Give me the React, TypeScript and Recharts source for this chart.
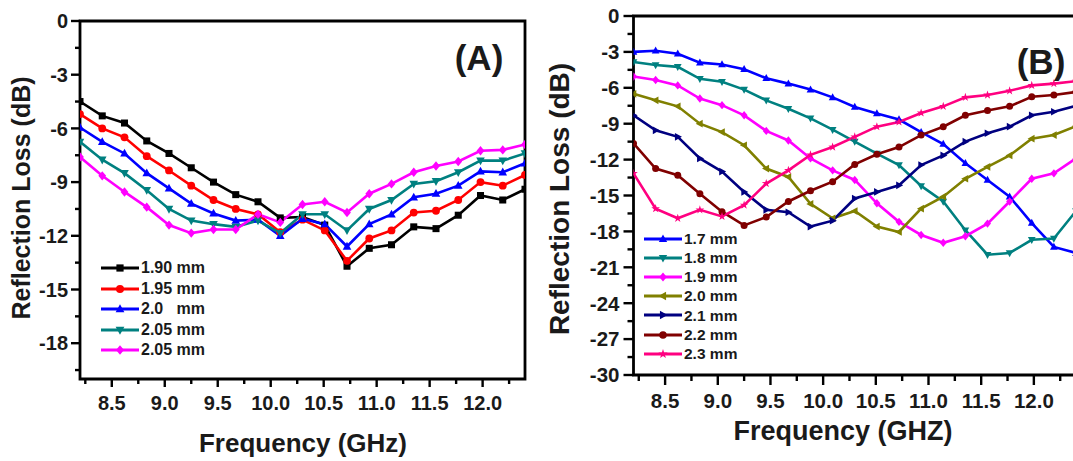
import React from "react";
import { LineChart, Line, XAxis, YAxis, ReferenceArea, Legend } from "recharts";

// frequency points (GHz), shared by both panels
const freq = [8.2, 8.41, 8.62, 8.83, 9.04, 9.25, 9.46, 9.67, 9.88, 10.09, 10.3, 10.51, 10.72, 10.93, 11.14, 11.35, 11.56, 11.77, 11.98, 12.19, 12.4];

// panel A
const rl190 = [-4.5, -5.3, -5.7, -6.7, -7.4, -8.2, -9.0, -9.7, -10.1, -11.0, -10.95, -11.4, -13.7, -12.7, -12.5, -11.5, -11.6, -10.85, -9.75, -10.0, -9.4];
const rl195 = [-5.2, -6.0, -6.5, -7.55, -8.35, -9.2, -10.0, -10.5, -10.8, -11.8, -11.1, -11.7, -13.4, -12.15, -11.7, -10.7, -10.6, -10.0, -9.0, -9.2, -8.6];
const rl200 = [-5.95, -6.75, -7.4, -8.5, -9.35, -10.2, -10.75, -11.15, -11.1, -12.0, -11.05, -11.35, -12.6, -11.35, -10.8, -9.85, -9.65, -9.2, -8.4, -8.45, -7.95];
const rl205a = [-6.75, -7.75, -8.5, -9.45, -10.5, -11.15, -11.35, -11.5, -11.15, -11.85, -10.8, -10.8, -11.7, -10.5, -10.0, -9.1, -8.95, -8.45, -7.8, -7.8, -7.4];
const rl205b = [-7.6, -8.65, -9.55, -10.4, -11.4, -11.85, -11.65, -11.65, -10.8, -11.25, -10.25, -10.1, -10.7, -9.65, -9.1, -8.45, -8.1, -7.85, -7.25, -7.2, -6.9];

// panel B
const rl17 = [-3.0, -2.9, -3.15, -3.9, -4.05, -4.45, -5.2, -5.65, -6.15, -6.8, -7.6, -8.15, -8.65, -9.7, -10.7, -12.3, -13.7, -15.1, -17.3, -19.3, -19.8];
const rl18 = [-3.85, -4.1, -4.25, -5.25, -5.5, -6.15, -7.05, -7.75, -8.55, -9.5, -10.5, -11.5, -12.45, -14.2, -15.5, -17.9, -19.95, -19.8, -18.7, -18.6, -16.3];
const rl19 = [-5.05, -5.35, -5.8, -6.9, -7.45, -8.3, -9.6, -10.4, -11.9, -12.9, -13.7, -15.65, -17.2, -18.3, -18.95, -18.4, -17.35, -15.5, -13.6, -13.15, -11.9];
const rl20 = [-6.5, -7.05, -7.55, -9.0, -9.7, -10.8, -12.75, -13.45, -15.7, -16.9, -16.3, -17.6, -18.05, -16.1, -15.1, -13.6, -12.6, -11.65, -10.25, -9.95, -9.2];
const rl21 = [-8.3, -9.55, -10.1, -11.9, -13.0, -14.7, -16.2, -16.4, -17.6, -17.1, -15.25, -14.7, -14.15, -12.45, -11.65, -10.5, -9.8, -9.25, -8.3, -8.0, -7.5];
const rl22 = [-10.65, -12.75, -13.3, -14.85, -16.35, -17.5, -16.8, -15.5, -14.6, -13.85, -12.4, -11.55, -10.95, -9.95, -9.25, -8.3, -7.9, -7.55, -6.75, -6.6, -6.35];
const rl23 = [-13.15, -16.1, -16.9, -16.2, -16.75, -15.8, -14.0, -12.9, -11.6, -10.95, -10.1, -9.25, -8.85, -8.1, -7.55, -6.8, -6.6, -6.25, -5.8, -5.65, -5.45];

// ticks
const xTicks = [8.25, 8.5, 8.75, 9.0, 9.25, 9.5, 9.75, 10.0, 10.25, 10.5, 10.75, 11.0, 11.25, 11.5, 11.75, 12.0, 12.25];
const yTicksA = [-19.5, -18, -16.5, -15, -13.5, -12, -10.5, -9, -7.5, -6, -4.5, -3, -1.5, 0];
const yTicksB = [-30, -28.5, -27, -25.5, -24, -22.5, -21, -19.5, -18, -16.5, -15, -13.5, -12, -10.5, -9, -7.5, -6, -4.5, -3, -1.5, 0];

type Shape = "square" | "circle" | "up" | "down" | "diamond" | "left" | "right" | "star";
type Series = { key: string; name: string; color: string; shape: Shape; values: number[] };

const seriesA: Series[] = [
  { key: "a190", name: "1.90 mm", color: "#000000", shape: "square", values: rl190 },
  { key: "a195", name: "1.95 mm", color: "#ff0000", shape: "circle", values: rl195 },
  { key: "a200", name: "2.0   mm", color: "#0000ff", shape: "up", values: rl200 },
  { key: "a205", name: "2.05 mm", color: "#008080", shape: "down", values: rl205a },
  { key: "a205b", name: "2.05 mm", color: "#ff00ff", shape: "diamond", values: rl205b },
];

const seriesB: Series[] = [
  { key: "b17", name: "1.7 mm", color: "#0000ff", shape: "up", values: rl17 },
  { key: "b18", name: "1.8 mm", color: "#008080", shape: "down", values: rl18 },
  { key: "b19", name: "1.9 mm", color: "#ff00ff", shape: "diamond", values: rl19 },
  { key: "b20", name: "2.0 mm", color: "#808000", shape: "left", values: rl20 },
  { key: "b21", name: "2.1 mm", color: "#000080", shape: "right", values: rl21 },
  { key: "b22", name: "2.2 mm", color: "#800000", shape: "circle", values: rl22 },
  { key: "b23", name: "2.3 mm", color: "#ff0080", shape: "star", values: rl23 },
];

const toRows = (series: Series[]) =>
  freq.map((f, i) => {
    const row: Record<string, number> = { f };
    series.forEach((s) => (row[s.key] = s.values[i]));
    return row;
  });

const FONT = "'Liberation Sans', Arial, sans-serif";

function Marker({ cx, cy, shape, color, r }: { cx: number; cy: number; shape: Shape; color: string; r: number }) {
  const pts = (list: number[][]) => list.map(([dx, dy]) => `${cx + dx * r},${cy + dy * r}`).join(" ");
  switch (shape) {
    case "square":
      return <rect x={cx - r * 0.9} y={cy - r * 0.9} width={r * 1.8} height={r * 1.8} fill={color} />;
    case "circle":
      return <circle cx={cx} cy={cy} r={r} fill={color} />;
    case "up":
      return <polygon points={pts([[0, -1.2], [1.1, 0.8], [-1.1, 0.8]])} fill={color} />;
    case "down":
      return <polygon points={pts([[0, 1.2], [1.1, -0.8], [-1.1, -0.8]])} fill={color} />;
    case "left":
      return <polygon points={pts([[-1.2, 0], [0.8, -1.1], [0.8, 1.1]])} fill={color} />;
    case "right":
      return <polygon points={pts([[1.2, 0], [-0.8, -1.1], [-0.8, 1.1]])} fill={color} />;
    case "diamond":
      return <polygon points={pts([[0, -1.2], [1.0, 0], [0, 1.2], [-1.0, 0]])} fill={color} />;
    case "star": {
      const list: number[][] = [];
      for (let k = 0; k < 10; k++) {
        const a = -Math.PI / 2 + (k * Math.PI) / 5;
        const rr = k % 2 === 0 ? 1.3 : 0.5;
        list.push([Math.cos(a) * rr, Math.sin(a) * rr]);
      }
      return <polygon points={pts(list)} fill={color} />;
    }
  }
  return null;
}

const isMajor = (v: number, step: number) => Math.abs(v / step - Math.round(v / step)) < 1e-6;

function makeXTick(majorLen: number, minorLen: number, dy: number, fs: number) {
  return (props: any) => {
    const { x, y, payload } = props;
    const v = payload.value as number;
    const major = isMajor(v, 0.5);
    return (
      <g>
        <line x1={x} y1={y} x2={x} y2={y + (major ? majorLen : minorLen)} stroke="#000" strokeWidth={2.4} />
        {major && (
          <text x={x} y={y + dy} textAnchor="middle" fontSize={fs} fontWeight="bold" fontFamily={FONT} fill="#1a1a1a">
            {v.toFixed(1)}
          </text>
        )}
      </g>
    );
  };
}

function makeYTick(majorLen: number, minorLen: number, gap: number, fs: number) {
  return (props: any) => {
    const { x, y, payload } = props;
    const v = payload.value as number;
    const major = isMajor(v, 3);
    return (
      <g>
        <line x1={x} y1={y} x2={x - (major ? majorLen : minorLen)} y2={y} stroke="#000" strokeWidth={2.4} />
        {major && (
          <text x={x - gap} y={y} dy="0.36em" textAnchor="end" fontSize={fs} fontWeight="bold" fontFamily={FONT} fill="#1a1a1a">
            {String(Math.round(v))}
          </text>
        )}
      </g>
    );
  };
}

function makeLegend(series: Series[], rowH: number, fs: number, r: number) {
  return () => (
    <div style={{ display: "flex", flexDirection: "column", fontFamily: FONT }}>
      {series.map((s) => (
        <div key={s.key} style={{ display: "flex", alignItems: "center", height: rowH }}>
          <svg width={38} height={14} style={{ display: "block" }}>
            <line x1={0} y1={7} x2={38} y2={7} stroke={s.color} strokeWidth={2.8} />
            <Marker cx={19} cy={7} shape={s.shape} color={s.color} r={r} />
          </svg>
          <span style={{ marginLeft: 2, fontSize: fs, fontWeight: "bold", color: "#1a1a1a", whiteSpace: "pre", lineHeight: 1 }}>
            {s.name}
          </span>
        </div>
      ))}
    </div>
  );
}

function renderLines(series: Series[], r: number) {
  return series.map((s) => (
    <Line
      key={s.key}
      type="linear"
      dataKey={s.key}
      name={s.name}
      stroke={s.color}
      strokeWidth={2.6}
      isAnimationActive={false}
      activeDot={false}
      dot={(p: any) => <Marker key={`${s.key}-${p.index}`} cx={p.cx} cy={p.cy} shape={s.shape} color={s.color} r={r} />}
    />
  ));
}

const textStyle: React.CSSProperties = {
  position: "absolute",
  fontFamily: FONT,
  fontWeight: "bold",
  color: "#1a1a1a",
  whiteSpace: "nowrap",
  lineHeight: 1,
};

export default function App() {
  const rowsA = toRows(seriesA);
  const rowsB = toRows(seriesB);

  return (
    <div style={{ position: "absolute", left: 0, top: 0, width: 1073, height: 461, overflow: "hidden", background: "#fff" }}>
      <div style={{ position: "absolute", left: 0, top: 0 }}>
        <LineChart width={540} height={461} data={rowsA} margin={{ top: 21, right: 15, bottom: 0, left: 0 }}>
          <XAxis
            type="number"
            dataKey="f"
            domain={[8.2, 12.4]}
            ticks={xTicks}
            interval={0}
            allowDataOverflow
            height={82}
            axisLine={false}
            tickLine={false}
            tickSize={0}
            tickMargin={0}
            tick={makeXTick(8, 5, 31, 20)}
          />
          <YAxis
            type="number"
            domain={[-20, 0]}
            ticks={yTicksA}
            interval={0}
            allowDataOverflow
            width={80}
            axisLine={false}
            tickLine={false}
            tickSize={0}
            tickMargin={0}
            tick={makeYTick(9, 5, 12, 20)}
          />
          <ReferenceArea x1={8.2} x2={12.4} y1={-20} y2={0} fill="none" fillOpacity={0} stroke="#000" strokeWidth={2.8} />
          {renderLines(seriesA, 3.9)}
          <Legend
            layout="vertical"
            align="center"
            verticalAlign="middle"
            wrapperStyle={{ left: 101, top: 258, width: "auto" }}
            content={makeLegend(seriesA, 20.5, 16, 4)}
          />
        </LineChart>
      </div>

      <div style={{ position: "absolute", left: 540, top: 0 }}>
        <LineChart width={540} height={461} data={rowsB} margin={{ top: 16, right: 4, bottom: 0, left: 0 }}>
          <XAxis
            type="number"
            dataKey="f"
            domain={[8.2, 12.4]}
            ticks={xTicks}
            interval={0}
            allowDataOverflow
            height={86}
            axisLine={false}
            tickLine={false}
            tickSize={0}
            tickMargin={0}
            tick={makeXTick(10, 6, 33, 20.5)}
          />
          <YAxis
            type="number"
            domain={[-30, 0]}
            ticks={yTicksB}
            interval={0}
            allowDataOverflow
            width={93.5}
            axisLine={false}
            tickLine={false}
            tickSize={0}
            tickMargin={0}
            tick={makeYTick(10, 6, 14, 20.5)}
          />
          <ReferenceArea x1={8.2} x2={12.4} y1={-30} y2={0} fill="none" fillOpacity={0} stroke="#000" strokeWidth={2.8} />
          {renderLines(seriesB, 3.5)}
          <Legend
            layout="vertical"
            align="center"
            verticalAlign="middle"
            wrapperStyle={{ left: 104, top: 229, width: "auto" }}
            content={makeLegend(seriesB, 19.2, 15.5, 3.8)}
          />
        </LineChart>
      </div>

      {/* axis titles and panel tags */}
      <div style={{ ...textStyle, left: 21, top: 198, fontSize: 25, transform: "translate(-50%, -50%) rotate(-90deg)" }}>
        Reflection Loss (dB)
      </div>
      <div style={{ ...textStyle, left: 303, top: 430, fontSize: 26, transform: "translateX(-50%)" }}>Frequency (GHz)</div>
      <div style={{ ...textStyle, left: 479, top: 57, fontSize: 35, transform: "translate(-50%, -50%)" }}>(A)</div>

      <div style={{ ...textStyle, left: 560, top: 199, fontSize: 28, transform: "translate(-50%, -50%) rotate(-90deg)" }}>
        Reflection Loss (dB)
      </div>
      <div style={{ ...textStyle, left: 843, top: 418, fontSize: 27, transform: "translateX(-50%)" }}>Frequency (GHZ)</div>
      <div style={{ ...textStyle, left: 1041, top: 61, fontSize: 35, transform: "translate(-50%, -50%)" }}>(B)</div>
    </div>
  );
}
